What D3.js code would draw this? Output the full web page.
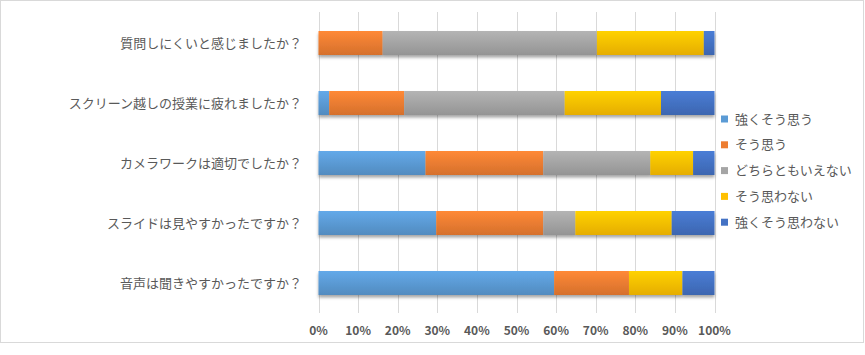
<!DOCTYPE html>
<html><head><meta charset="utf-8">
<script src="https://cdn.jsdelivr.net/npm/d3@7"></script>
<style>
html,body{margin:0;padding:0;background:#fff;}
svg{display:block;font-family:"Noto Sans CJK JP","Noto Sans",sans-serif;}
</style></head><body>
<svg id="c" width="865" height="355"></svg>
<script>
const categories = ["質問しにくいと感じましたか？","スクリーン越しの授業に疲れましたか？","カメラワークは適切でしたか？","スライドは見やすかったですか？","音声は聞きやすかったですか？"];
const seriesNames = ["強くそう思う","そう思う","どちらともいえない","そう思わない","強くそう思わない"];
const s1 = [0, 2.7, 27.0, 29.7, 59.5];
const s2 = [16.2, 18.9, 29.7, 27.0, 18.9];
const s3 = [54.1, 40.5, 27.0, 8.1, 0];
const s4 = [27.0, 24.3, 10.8, 24.3, 13.5];
const s5 = [2.7, 13.5, 5.4, 10.8, 8.1];
const tickValues = [0,0.1,0.2,0.3,0.4,0.5,0.6,0.7,0.8,0.9,1.0];
const colors = ["#5B9BD5","#ED7D31","#A5A5A5","#FFC000","#4472C4"];

const series = [s1,s2,s3,s4,s5];
const svg = d3.select("#c");
const W=865,H=355;
svg.append("rect").attr("x",0.5).attr("y",0.5).attr("width",863).attr("height",342)
  .attr("fill","#fff").attr("stroke","#D9D9D9").attr("stroke-width",1);

const defs = svg.append("defs");
colors.forEach((c,i)=>{
  const g = defs.append("linearGradient").attr("id","g"+i).attr("x1",0).attr("y1",0).attr("x2",0).attr("y2",1);
  g.append("stop").attr("offset","0%").attr("stop-color",d3.color(c).brighter(0.25));
  g.append("stop").attr("offset","100%").attr("stop-color",d3.color(c).darker(0.3));
});
const f = defs.append("filter").attr("id","sh").attr("x","-5%").attr("y","-20%").attr("width","110%").attr("height","160%");
f.append("feDropShadow").attr("dx",0).attr("dy",2.5).attr("stdDeviation",1.5).attr("flood-color","#000").attr("flood-opacity",0.35);

const x = d3.scaleLinear().domain([0,1]).range([318.5,714.5]);
const y = d3.scaleBand().domain(categories).range([13,313]).paddingInner(0.6).paddingOuter(0.3);

// grid
svg.append("g").selectAll("line").data(tickValues).join("line")
  .attr("x1",d=>Math.round(x(d))+0.5).attr("x2",d=>Math.round(x(d))+0.5)
  .attr("y1",12).attr("y2",313).attr("stroke","#D9D9D9").attr("stroke-width",1);

// bars
const stackData = categories.map((c,i)=>{const o={cat:c}; seriesNames.forEach((n,j)=>o[n]=series[j][i]); return o;});
const stack = d3.stack().keys(seriesNames).offset(d3.stackOffsetExpand)(stackData);
const gb = svg.append("g").attr("filter","url(#sh)");
stack.forEach((layer,j)=>{
  gb.append("g").selectAll("rect").data(layer).join("rect")
    .attr("x",d=>x(d[0])).attr("width",d=>Math.max(0,x(d[1])-x(d[0])))
    .attr("y",d=>y(d.data.cat)).attr("height",y.bandwidth())
    .attr("fill","url(#g"+j+")");
});

// x tick labels
svg.append("g").selectAll("text").data(tickValues).join("text")
  .attr("x",d=>x(d)).attr("y",335).attr("text-anchor","middle")
  .attr("font-size",12).attr("font-weight","bold").attr("fill","#595959")
  .text(d=>d3.format(".0%")(d));

// category labels
svg.append("g").selectAll("text").data(categories).join("text")
  .attr("x",302).attr("y",d=>y(d)+y.bandwidth()/2).attr("dy","0.35em")
  .attr("text-anchor","end").attr("font-size",13).attr("fill","#595959")
  .text(d=>d);

// legend
const lg = svg.append("g");
seriesNames.forEach((n,i)=>{
  const cy = 119 + i*25.8;
  lg.append("rect").attr("x",721).attr("y",cy-3.5).attr("width",7).attr("height",7).attr("fill",colors[i]);
  lg.append("text").attr("x",735).attr("y",cy).attr("dy","0.35em").attr("font-size",13).attr("fill","#595959").text(n);
});
</script>
</body></html>
